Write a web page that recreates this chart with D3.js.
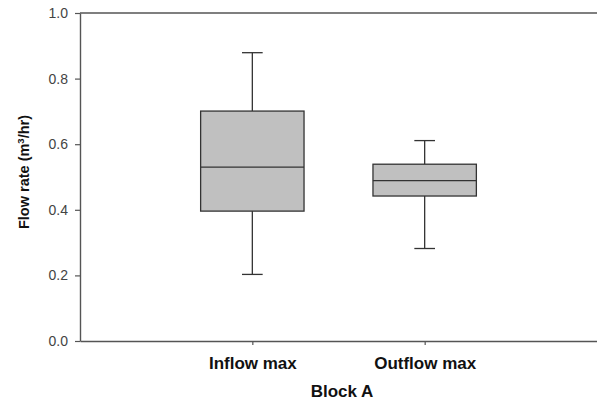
<!DOCTYPE html>
<html>
<head>
<meta charset="utf-8">
<script src="https://cdn.jsdelivr.net/npm/d3@7"></script>
<style>
  body { margin: 0; background: #fff; }
  svg { display: block; }
</style>
</head>
<body>
<div id="chart"></div>
<script>
// Box plot data
var categories = ["Inflow max", "Outflow max"];
var whiskerLow = [0.203, 0.282];
var q1 = [0.396, 0.442];
var median = [0.530, 0.489];
var q3 = [0.701, 0.539];
var whiskerHigh = [0.879, 0.611];
var yTicks = [0.0, 0.2, 0.4, 0.6, 0.8, 1.0];

var margin = {top: 13, right: 0, bottom: 60, left: 80},
    width = 597 - margin.left - margin.right,
    height = 401 - margin.top - margin.bottom;

var svg = d3.select("#chart")
  .append("svg")
    .attr("width", width + margin.left + margin.right)
    .attr("height", height + margin.top + margin.bottom)
  .append("g")
    .attr("transform", `translate(${margin.left},${margin.top})`);

// x is a linear position scale: categories sit at 1 and 2 on [0,3]
var x = d3.scaleLinear().domain([0, 3]).range([0, width]);
var y = d3.scaleLinear().domain([0, 1]).range([height, 0]);

var boxW = 0.6, capW = 0.12;

var data = categories.map((c, i) => ({
  name: c, pos: i + 1,
  lo: whiskerLow[i], q1: q1[i], med: median[i], q3: q3[i], hi: whiskerHigh[i]
}));

var axisColor = "#555";
var boxColor = "#333";

// Top frame line
svg.append("line")
  .attr("x1", 0).attr("x2", width)
  .attr("y1", y(1)).attr("y2", y(1))
  .attr("stroke", axisColor).attr("stroke-width", 1.4);

// Y axis
var yAxis = svg.append("g")
  .call(d3.axisLeft(y).tickValues(yTicks).tickSize(5).tickSizeOuter(0).tickFormat(d3.format(".1f")));
yAxis.select(".domain").attr("stroke", axisColor).attr("stroke-width", 1.4);
yAxis.selectAll(".tick line").attr("stroke", axisColor).attr("stroke-width", 1.2);
yAxis.selectAll(".tick text")
  .attr("x", -12)
  .attr("fill", "#444")
  .style("font-family", "Arial, 'Liberation Sans', sans-serif")
  .style("font-size", "14px");

// X axis
var xAxis = svg.append("g")
  .attr("transform", `translate(0,${height})`)
  .call(d3.axisBottom(x).tickValues([1, 2]).tickSize(4).tickSizeOuter(0)
    .tickFormat(d => categories[d - 1]));
xAxis.select(".domain").attr("stroke", axisColor).attr("stroke-width", 1.4);
xAxis.selectAll(".tick line").attr("stroke", axisColor).attr("stroke-width", 1.2);
xAxis.selectAll(".tick text")
  .attr("y", 0)
  .attr("dy", "28px")
  .attr("fill", "#111")
  .style("font-family", "Arial, 'Liberation Sans', sans-serif")
  .style("font-weight", "bold")
  .style("font-size", "17px");

// Boxes
var boxes = svg.selectAll(".box")
  .data(data)
  .enter().append("g")
  .attr("class", "box");

// whisker stems
boxes.append("line")
  .attr("x1", d => x(d.pos)).attr("x2", d => x(d.pos))
  .attr("y1", d => y(d.hi)).attr("y2", d => y(d.q3))
  .attr("stroke", boxColor).attr("stroke-width", 1.3);
boxes.append("line")
  .attr("x1", d => x(d.pos)).attr("x2", d => x(d.pos))
  .attr("y1", d => y(d.q1)).attr("y2", d => y(d.lo))
  .attr("stroke", boxColor).attr("stroke-width", 1.3);

// caps
boxes.append("line")
  .attr("x1", d => x(d.pos - capW / 2)).attr("x2", d => x(d.pos + capW / 2))
  .attr("y1", d => y(d.hi)).attr("y2", d => y(d.hi))
  .attr("stroke", boxColor).attr("stroke-width", 1.3);
boxes.append("line")
  .attr("x1", d => x(d.pos - capW / 2)).attr("x2", d => x(d.pos + capW / 2))
  .attr("y1", d => y(d.lo)).attr("y2", d => y(d.lo))
  .attr("stroke", boxColor).attr("stroke-width", 1.3);

// box body
boxes.append("rect")
  .attr("x", d => x(d.pos - boxW / 2))
  .attr("width", d => x(d.pos + boxW / 2) - x(d.pos - boxW / 2))
  .attr("y", d => y(d.q3))
  .attr("height", d => y(d.q1) - y(d.q3))
  .attr("fill", "#c0c0c0")
  .attr("stroke", boxColor).attr("stroke-width", 1.3);

// median
boxes.append("line")
  .attr("x1", d => x(d.pos - boxW / 2)).attr("x2", d => x(d.pos + boxW / 2))
  .attr("y1", d => y(d.med)).attr("y2", d => y(d.med))
  .attr("stroke", boxColor).attr("stroke-width", 1.3);

// Axis titles
svg.append("text")
  .attr("x", 262)
  .attr("y", height + 56)
  .attr("text-anchor", "middle")
  .attr("fill", "#111")
  .style("font-family", "Arial, 'Liberation Sans', sans-serif")
  .style("font-weight", "bold")
  .style("font-size", "17px")
  .text("Block A");

var yTitle = svg.append("text")
  .attr("transform", `translate(${29 - margin.left},${172 - margin.top}) rotate(-90)`)
  .attr("text-anchor", "middle")
  .attr("fill", "#111")
  .style("font-family", "Arial, 'Liberation Sans', sans-serif")
  .style("font-weight", "bold")
  .style("font-size", "14.5px");
yTitle.append("tspan").text("Flow rate (m");
yTitle.append("tspan").attr("dy", "-5").style("font-size", "9.5px").text("3");
yTitle.append("tspan").attr("dy", "5").text("/hr)");
</script>
</body>
</html>
